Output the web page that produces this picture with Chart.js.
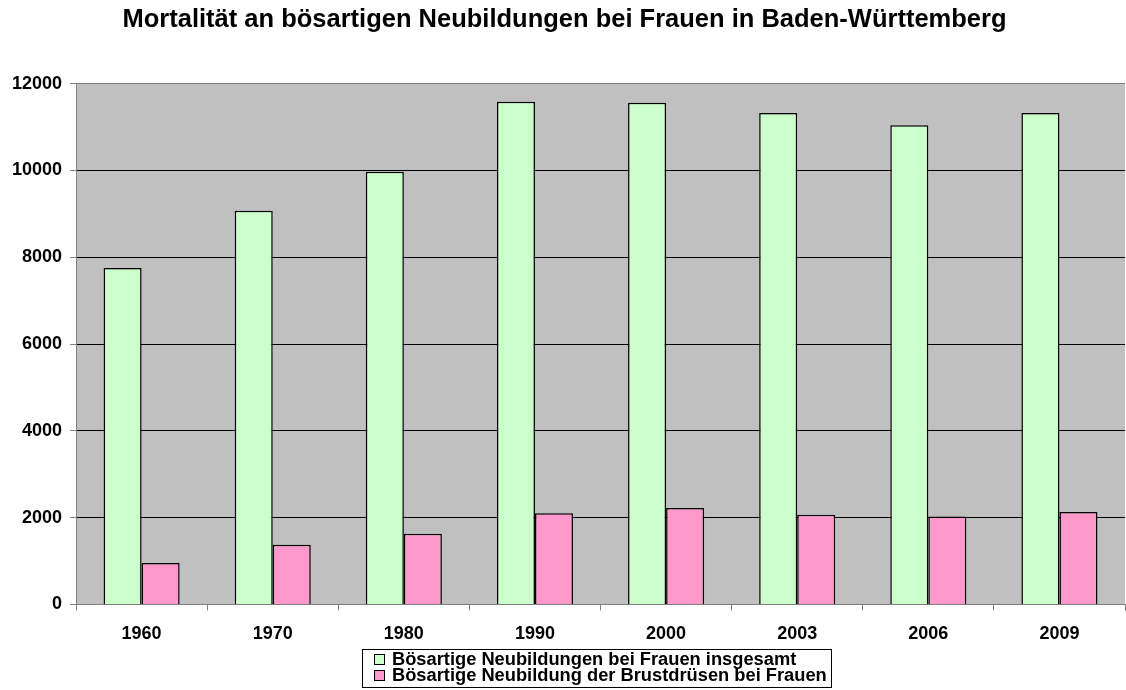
<!DOCTYPE html>
<html>
<head>
<meta charset="utf-8">
<script src="https://cdn.jsdelivr.net/npm/chart.js@4/dist/chart.umd.min.js"></script>
<style>
  body { margin: 0; background: #fff; }
</style>
</head>
<body>
<canvas id="myChart" width="1126" height="690"></canvas>
<script>
var years = ['1960', '1970', '1980', '1990', '2000', '2003', '2006', '2009'];
var totalWomen = [7750, 9070, 9970, 11580, 11560, 11320, 11040, 11320];
var breastWomen = [955, 1375, 1630, 2100, 2220, 2065, 2025, 2130];
var seriesNames = [
    'Bösartige Neubildungen bei Frauen insgesamt',
    'Bösartige Neubildung der Brustdrüsen bei Frauen'
];

var fontName = '"Liberation Sans", Arial, sans-serif';

// grey plot background
var plotBackground = {
    id: 'plotBackground',
    beforeDraw: function (chart) {
        var ctx = chart.ctx, a = chart.chartArea;
        ctx.save();
        ctx.fillStyle = '#C0C0C0';
        ctx.fillRect(a.left, a.top, a.right - a.left, a.bottom - a.top);
        ctx.restore();
    }
};

// boxed legend with the two entries stacked
var boxLegend = {
    id: 'boxLegend',
    afterDraw: function (chart) {
        var ctx = chart.ctx;
        var left = 362, top = 649, right = 832, bottom = 688;
        ctx.save();
        ctx.fillStyle = '#fff';
        ctx.fillRect(left, top, right - left, bottom - top);
        ctx.strokeStyle = '#000';
        ctx.lineWidth = 1;
        ctx.strokeRect(left + 0.5, top + 0.5, right - left - 1, bottom - top - 1);
        ctx.font = 'bold 18.3px ' + fontName;
        ctx.textBaseline = 'alphabetic';
        chart.data.datasets.forEach(function (ds, i) {
            var y = 654 + i * 16;
            ctx.fillStyle = ds.backgroundColor;
            ctx.fillRect(374.5, y + 0.5, 10, 10);
            ctx.strokeStyle = '#000';
            ctx.strokeRect(374.5, y + 0.5, 10, 10);
            ctx.fillStyle = '#000';
            ctx.fillText(ds.label, 392, y + 11);
        });
        ctx.restore();
    }
};

var element = document.getElementById('myChart').getContext('2d');

var chartData = {
    labels: years,
    datasets: [{
        label: seriesNames[0],
        data: totalWomen,
        backgroundColor: '#CCFFCC',
        borderColor: '#000',
        borderWidth: 1.5
    }, {
        label: seriesNames[1],
        data: breastWomen,
        backgroundColor: '#FF99CC',
        borderColor: '#000',
        borderWidth: 1.5
    }]
};

var chartOptions = {
    responsive: false,
    animation: false,
    layout: { padding: { left: 4, right: 1, top: 0, bottom: 32 } },
    datasets: { bar: { categoryPercentage: 0.58, barPercentage: 1.0 } },
    plugins: {
        legend: { display: false },
        tooltip: { enabled: false },
        title: {
            display: true,
            text: 'Mortalität an bösartigen Neubildungen bei Frauen in Baden-Württemberg',
            color: '#000',
            font: { family: fontName, size: 25.5, weight: 'bold' },
            padding: { top: 5, bottom: 48 }
        }
    },
    scales: {
        x: {
            grid: {
                offset: true,
                drawOnChartArea: false,
                color: '#808080',
                tickLength: 6
            },
            border: { color: '#808080', width: 1 },
            ticks: {
                color: '#000',
                padding: 13,
                maxRotation: 0,
                font: { family: fontName, size: 18, weight: 'bold' }
            }
        },
        y: {
            min: 0,
            max: 12000,
            ticks: {
                stepSize: 2000,
                color: '#000',
                padding: 8,
                font: { family: fontName, size: 18, weight: 'bold' },
                callback: function (v) { return String(v); }
            },
            grid: {
                color: function (c) {
                    return (c.tick.value === 0 || c.tick.value === 12000) ? '#808080' : '#000';
                },
                tickColor: '#808080',
                tickLength: 6
            },
            border: { color: '#808080', width: 1 }
        }
    }
};

var chart = new Chart(element, { type: 'bar', data: chartData, options: chartOptions, plugins: [plotBackground, boxLegend] });
</script>
</body>
</html>
